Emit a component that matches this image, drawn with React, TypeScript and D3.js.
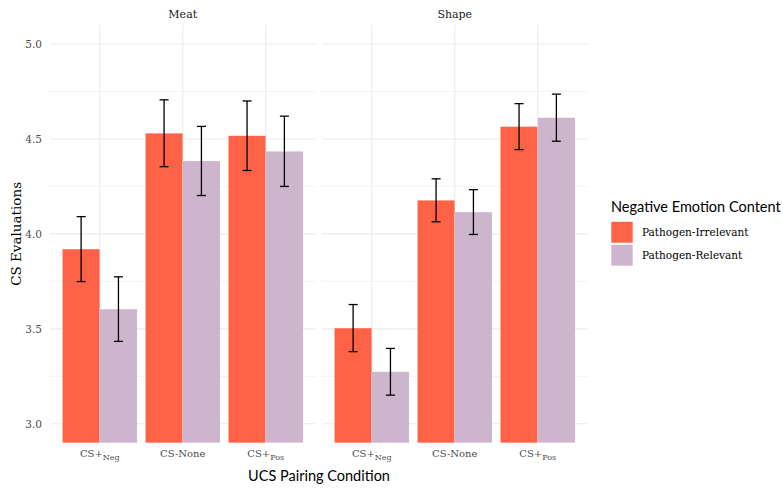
import React from 'react';
import * as d3 from 'd3';

const panels = ['Meat', 'Shape'];
const conditions = ['CS+Neg', 'CS-None', 'CS+Pos'];
const groups = ['Pathogen-Irrelevant', 'Pathogen-Relevant'];
const colors = ['#FF6347', '#CDB5CD'];

// means [panel][condition][group]
const meatMeans = [[3.92, 3.604], [4.53, 4.384], [4.517, 4.435]];
const meatSE = [[0.171, 0.17], [0.176, 0.182], [0.183, 0.185]];
const shapeMeans = [[3.504, 3.274], [4.177, 4.115], [4.565, 4.612]];
const shapeSE = [[0.124, 0.123], [0.113, 0.118], [0.121, 0.124]];

const yTicks = [3.0, 3.5, 4.0, 4.5, 5.0];
const yMinor = [3.25, 3.75, 4.25, 4.75];

const W = 783;
const H = 489;
const top = 25;
const bottom = 442.8;
const panelX = [[50, 315.5], [322, 587.5]];

const serif = "'DejaVu Serif', 'Liberation Serif', serif";
const sans = "Lato, 'Open Sans', sans-serif";

const tickLabel = (c: string) => {
  if (c === 'CS+Neg') return ['CS+', 'Neg'];
  if (c === 'CS+Pos') return ['CS+', 'Pos'];
  return [c, ''];
};

const App = () => {
  const y = d3.scaleLinear().domain([2.9, 5.1]).range([bottom, top]);
  const data = [
    { means: meatMeans, se: meatSE },
    { means: shapeMeans, se: shapeSE },
  ];

  return (
    <svg width={W} height={H} style={{ position: 'absolute', left: 0, top: 0, background: '#fff' }}>
      {panels.map((p, pi) => {
        const [x0, x1] = panelX[pi];
        const x = d3.scalePoint<string>().domain(conditions).range([x0, x1]).padding(0.6);
        const step = x.step();
        const bw = step * 0.45;
        return (
          <g key={p}>
            {yMinor.map(t => (
              <line key={'m' + t} x1={x0} x2={x1} y1={y(t)} y2={y(t)} stroke="#EBEBEB" strokeWidth={0.6} />
            ))}
            {yTicks.map(t => (
              <line key={'t' + t} x1={x0} x2={x1} y1={y(t)} y2={y(t)} stroke="#EBEBEB" strokeWidth={1.1} />
            ))}
            {conditions.map(c => (
              <line key={'v' + c} x1={x(c)} x2={x(c)} y1={top} y2={bottom} stroke="#EBEBEB" strokeWidth={1.1} />
            ))}
            <text x={(x0 + x1) / 2} y={18} textAnchor="middle" fontFamily={serif} fontSize={11} fill="#1a1a1a">
              {p}
            </text>
            {conditions.map((c, ci) =>
              groups.map((g, gi) => {
                const m = data[pi].means[ci][gi];
                const se = data[pi].se[ci][gi];
                const bx = (x(c) as number) - bw + gi * bw;
                const cx = bx + bw / 2;
                return (
                  <g key={c + g}>
                    <rect x={bx} y={y(m)} width={bw} height={bottom - y(m)} fill={colors[gi]} stroke="#fff" strokeOpacity={0.35} strokeWidth={0.6} />
                    <line x1={cx} x2={cx} y1={y(m + se)} y2={y(m - se)} stroke="#000" strokeWidth={1.3} />
                    <line x1={cx - 4.5} x2={cx + 4.5} y1={y(m + se)} y2={y(m + se)} stroke="#000" strokeWidth={1.3} />
                    <line x1={cx - 4.5} x2={cx + 4.5} y1={y(m - se)} y2={y(m - se)} stroke="#000" strokeWidth={1.3} />
                  </g>
                );
              })
            )}
            {conditions.map(c => {
              const [a, b] = tickLabel(c);
              return (
                <text key={'l' + c} x={x(c)} y={457} textAnchor="middle" fontFamily={serif} fontSize={10} fill="#4d4d4d">
                  {a}
                  {b && <tspan fontSize={8} dy={3}>{b}</tspan>}
                </text>
              );
            })}
            {pi === 0 &&
              yTicks.map(t => (
                <text key={'y' + t} x={42} y={y(t) + 3.8} textAnchor="end" fontFamily={serif} fontSize={10.5} fill="#4d4d4d">
                  {t.toFixed(1)}
                </text>
              ))}
          </g>
        );
      })}
      <text x={319} y={481} textAnchor="middle" fontFamily={sans} fontSize={14.5} fill="#000">
        UCS Pairing Condition
      </text>
      <text transform={`translate(21,${(top + bottom) / 2}) rotate(-90)`} textAnchor="middle" fontFamily={serif} fontSize={13.5} fill="#000">
        CS Evaluations
      </text>
      <text x={611} y={212} fontFamily={sans} fontSize={14.5} fill="#000">
        Negative Emotion Content
      </text>
      {groups.map((g, gi) => (
        <g key={g}>
          <rect x={611} y={221.5 + gi * 23} width={22} height={21.5} fill={colors[gi]} stroke="#fff" strokeWidth={0.6} />
          <text x={642} y={236 + gi * 23} fontFamily={serif} fontSize={10.5} fill="#000">
            {g}
          </text>
        </g>
      ))}
    </svg>
  );
};

export default App;
